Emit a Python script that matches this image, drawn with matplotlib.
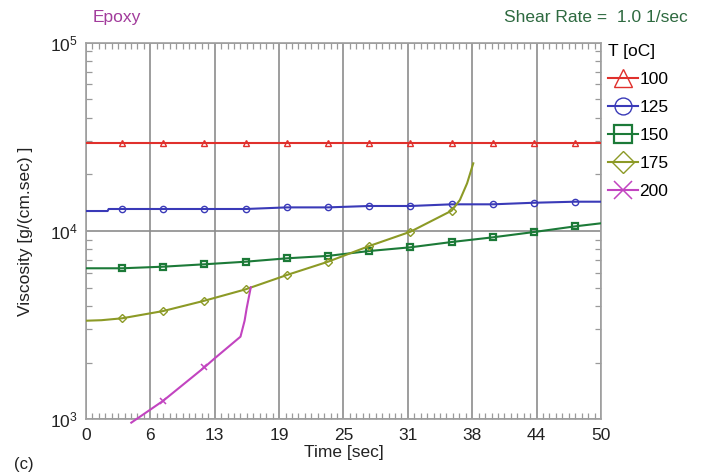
import numpy as np
import matplotlib
matplotlib.use("Agg")
import matplotlib.pyplot as plt
from matplotlib.ticker import FixedLocator, FixedFormatter, LogLocator, NullFormatter, MultipleLocator

plt.rcParams['font.family'] = ['Liberation Sans', 'DejaVu Sans']
plt.rcParams['mathtext.fontset'] = 'custom'
plt.rcParams['mathtext.rm'] = 'Liberation Sans'
plt.rcParams['mathtext.it'] = 'Liberation Sans'

# Times [sec] where symbols are placed along each curve
t_marks = [3.5, 7.5, 11.5, 15.5, 19.5, 23.5, 27.5, 31.5, 35.5, 39.5, 43.5, 47.5]

# T = 100 oC
t_100 = [0, 3.5, 7.5, 11.5, 15.5, 19.5, 23.5, 27.5, 31.5, 35.5, 39.5, 43.5, 47.5, 50]
v_100 = [29200] * 14

# T = 125 oC
t_125 = [0, 2.1, 2.2, 3.5, 7.5, 11.5, 15.5, 19.5, 23.5, 27.5, 31.5, 35.5, 39.5, 43.5, 47.5, 50]
v_125 = [12770, 12770, 13090, 13090, 13090, 13090, 13090, 13350, 13350, 13580, 13580,
         13860, 13860, 14130, 14310, 14310]

# T = 150 oC
t_150 = [0, 3.5, 7.5, 11.5, 15.5, 19.5, 23.5, 27.5, 31.5, 35.5, 39.5, 43.5, 47.5, 50]
v_150 = [6340, 6340, 6465, 6657, 6871, 7161, 7377, 7831, 8194, 8741, 9257, 9878, 10590, 10990]

# T = 175 oC
t_175 = [0, 1.5, 3.5, 7.5, 11.5, 15.5, 19.5, 23.5, 27.5, 31.5, 35.5, 36.3, 37.0, 37.3, 37.6]
v_175 = [3339, 3360, 3439, 3759, 4264, 4901, 5838, 6871, 8323, 9915, 12820, 14610, 17920,
         20250, 22880]

# T = 200 oC
t_200 = [4.4, 7.5, 11.5, 12.5, 15.0, 15.4, 15.6, 16.0]
v_200 = [960, 1255, 1889, 2109, 2747, 3339, 3886, 5023]

series = [
    ("100", t_100, v_100, "#e0302c", "^", 5.0, 1.0),
    ("125", t_125, v_125, "#3a3ab8", "o", 4.5, 1.0),
    ("150", t_150, v_150, "#1c7a38", "s", 4.8, 1.6),
    ("175", t_175, v_175, "#8c9a26", "D", 4.0, 1.0),
    ("200", t_200, v_200, "#c244c0", "x", 5.0, 1.1),
]

x_ticks = [0, 6.25, 12.5, 18.75, 25, 31.25, 37.5, 43.75, 50]
x_labels = ["0", "6", "13", "19", "25", "31", "38", "44", "50"]

fig = plt.figure(figsize=(7.03, 4.73), dpi=100)
ax = fig.add_axes([0.1223, 0.1135, 0.7326, 0.7962])

handles = []
for label, t, v, color, mk, ms, mew in series:
    idx = [i for i, tt in enumerate(t) if tt in t_marks]
    h, = ax.plot(t, v, color=color, lw=1.5, marker=mk, markersize=ms,
                 markerfacecolor='none', markeredgecolor=color, markeredgewidth=mew,
                 markevery=idx, label=label, clip_on=(label != "200"), zorder=3)
    handles.append(h)

ax.set_yscale('log')
ax.set_xlim(0, 50)
ax.set_ylim(1e3, 1e5)

ax.xaxis.set_major_locator(FixedLocator(x_ticks))
ax.xaxis.set_major_formatter(FixedFormatter(x_labels))
ax.xaxis.set_minor_locator(MultipleLocator(0.625))
ax.yaxis.set_major_locator(LogLocator(base=10, numticks=5))
ax.yaxis.set_minor_locator(LogLocator(base=10, subs=np.arange(2, 10), numticks=10))
ax.yaxis.set_minor_formatter(NullFormatter())

ax.grid(True, which='major', color='#8c8c8c', lw=1.2, zorder=1)
ax.tick_params(which='major', length=0, labelsize=12.5, pad=6, colors='#222222')
ax.tick_params(which='minor', direction='in', length=4, width=0.9, color='#9a9a9a',
               top=True, bottom=True, left=True, right=True)
for s in ax.spines.values():
    s.set_color('#a0a0a0')
    s.set_linewidth(1.2)

ax.set_xlabel("Time [sec]", fontsize=12.5, labelpad=2, color='#222222')
ax.set_ylabel("Viscosity [g/(cm.sec) ]", fontsize=12.5, labelpad=12, color='#222222')

fig.text(0.132, 0.962, "Epoxy", color='#a23c9c', fontsize=12.5, va='center', ha='left')
fig.text(0.979, 0.962, "Shear Rate =  1.0 1/sec", color='#2e6a40', fontsize=12.5,
         va='center', ha='right')
fig.text(0.02, 0.002, "(c)", fontsize=12, va='bottom', ha='left', color='#222222')

leg = ax.legend(handles=handles, title="T [oC]", loc='upper left',
                bbox_to_anchor=(0.99, 1.03), frameon=False, fontsize=12.5,
                title_fontsize=12.5, markerscale=2.7, handlelength=1.7,
                handletextpad=0.1, labelspacing=0.75, borderaxespad=0.3)
leg._legend_box.align = "left"

fig.savefig("out.png", dpi=100)
